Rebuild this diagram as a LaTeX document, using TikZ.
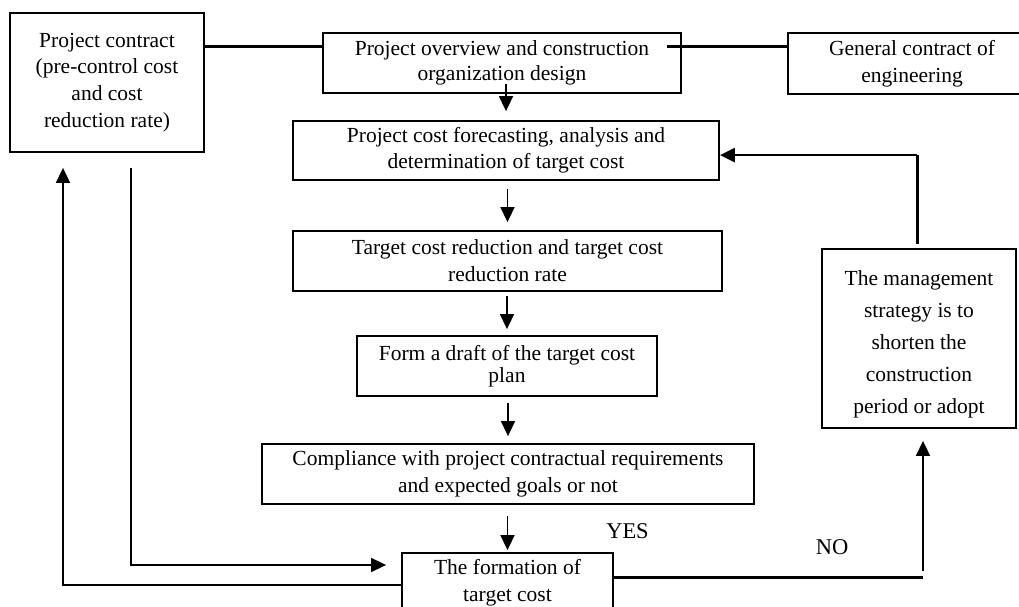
\documentclass[tikz,border=0pt]{standalone}
\usepackage{fontspec}
\setmainfont{Liberation Serif}
\usetikzlibrary{arrows.meta,calc}

\begin{document}
\begin{tikzpicture}[x=1pt,y=-1pt,
  box/.style={draw, line width=1.8pt, inner sep=0pt, align=center},
  lines/.style={font=\fontsize{21.5}{#1}\selectfont},
  heavy/.style={line width=3pt},
  arr/.style={line width=1.6pt, -{Triangle[length=15pt,width=14pt]}},
  harr/.style={line width=2.6pt, -{Triangle[length=15pt,width=14pt]}},
  lbl/.style={font=\fontsize{22.5}{27}\selectfont}]

\useasboundingbox (0,0) rectangle (1019,607);
\fill[white] (0,0) rectangle (1019,607);
\clip (0,0) rectangle (1019,607);

% boxes
\node[box, lines=26.7, minimum width=194pt, minimum height=139pt] (A) at (107,82.5)
  {Project contract\\(pre-control cost\\and cost\\reduction rate)};
\node[box, lines=25, minimum width=358pt, minimum height=60pt] (B) at (502,63)
  {Project overview and construction\\organization design};
\node[box, lines=27, minimum width=248pt, minimum height=61pt] (C) at (912,63.5)
  {General contract of\\engineering};
\node[box, lines=26, minimum width=426pt, minimum height=59pt] (D) at (506,150.5)
  {Project cost forecasting, analysis and\\determination of target cost};
\node[box, lines=27, minimum width=429pt, minimum height=60pt] (E) at (507.5,261)
  {Target cost reduction and target cost\\reduction rate};
\node[box, lines=22, minimum width=300pt, minimum height=60pt] (F) at (507,366)
  {Form a draft of the target cost\\plan};
\node[box, lines=27, minimum width=492pt, minimum height=60pt] (P) at (508,474)
  {Compliance with project contractual requirements\\and expected goals or not};
\node[box, lines=27, minimum width=211pt, minimum height=60pt] (T) at (507.5,583)
  {The formation of\\target cost};
\node[box, minimum width=194pt, minimum height=179pt] (G) at (919,338.5) {};
\node[lines=32, align=center, inner sep=0pt] (Gtext) at ($(G.center)+(0,6)$)
  {The management\\strategy is to\\shorten the\\construction\\period or adopt};

% top row links
\coordinate (ab) at ($(B.west)+(0,-16)$);
\draw[heavy] (ab -| A.east) -- (ab);
\coordinate (bc) at ($(B.east)+(-15,-16)$);
\draw[heavy] (bc) -- (bc -| C.west);

% main chain
\draw[arr, shorten <=-10pt, shorten >=9pt] (B.south -| D.north) -- (D.north);
\draw[arr, shorten <=8pt, shorten >=8pt] (D.south -| E.north) -- (E.north);
\draw[arr, shorten <=4pt, shorten >=6pt] (E.south -| F.north) -- (F.north);
\draw[arr, shorten <=6pt, shorten >=7pt] (F.south -| P.north) -- (P.north);
\draw[arr, shorten <=11pt, shorten >=2pt] (P.south -| T.north) -- (T.north);

% NO branch to the strategy box
\coordinate (nc) at ($(G.south)+(4,149)$);
\draw[heavy] (nc -| T.east) -- (nc);
\draw[arr, shorten >=12pt] ($(nc)+(0,-7)$) -- (nc |- G.south);

% feedback from the strategy box to the forecasting box
\coordinate (gc) at ($(G.north)+(-2,-93)$);
\draw[heavy] ($(gc |- G.north)+(0,-4)$) -- (gc);
\draw[harr] (gc) -- (gc -| D.east);

% left-hand loops
\coordinate (rc) at (131,565);
\draw[arr, shorten >=15pt] ($(rc |- A.south)+(0,15)$) -- (rc) -- (rc -| T.west);
\coordinate (lc) at (63,585);
\draw[arr, shorten >=15pt] (lc -| T.west) -- (lc) -- (lc |- A.south);

% branch labels
\node[lbl] (yes) at (627.5,531) {YES};
\node[lbl] (no) at (832,547) {NO};
\end{tikzpicture}
\end{document}
